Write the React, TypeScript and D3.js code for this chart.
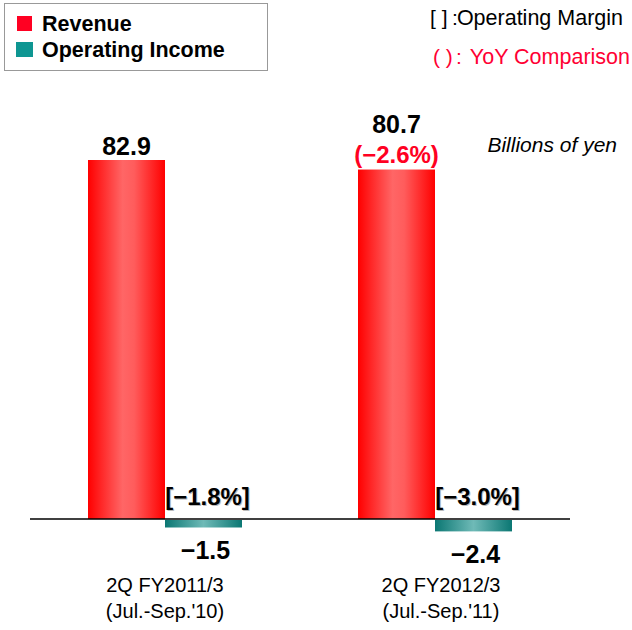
import React from "react";
import * as d3 from "d3";

const categories = ["2Q FY2011/3", "2Q FY2012/3"];
const periods = ["(Jul.-Sep.'10)", "(Jul.-Sep.'11)"];
const revenue = [82.9, 80.7];
const operatingIncome = [-1.5, -2.4];
const operatingMargin = ["[\u22121.8%]", "[\u22123.0%]"];
const yoy = ["", "(\u22122.6%)"];
const series = ["Revenue", "Operating Income"];

const W = 632;
const H = 630;

export default function App() {
  const x = d3.scalePoint<string>().domain(categories).range([30, 570]).padding(0.5);
  const inner = d3.scaleBand<string>().domain(series).range([-77, 77]).padding(0);
  const y = d3.scaleLinear().domain([0, 82.9]).range([519, 160]);
  const font = "'Liberation Sans', Arial, sans-serif";
  const bw = inner.bandwidth();

  return (
    <svg width={W} height={H} style={{ position: "absolute", left: 0, top: 0, display: "block" }} fontFamily={font}>
      <defs>
        <linearGradient id="gRed" x1="0" x2="1" y1="0" y2="0">
          <stop offset="0" stopColor="#FF0000" />
          <stop offset="0.45" stopColor="#FF6666" />
          <stop offset="0.6" stopColor="#FF5C5C" />
          <stop offset="1" stopColor="#FF0000" />
        </linearGradient>
        <linearGradient id="gTeal" x1="0" x2="1" y1="0" y2="0">
          <stop offset="0" stopColor="#0B7773" />
          <stop offset="0.5" stopColor="#6FBAB7" />
          <stop offset="1" stopColor="#0B7773" />
        </linearGradient>
      </defs>
      <rect width={W} height={H} fill="#fff" />

      {/* legend */}
      <rect x={4.5} y={3.5} width={263} height={67} fill="#fff" stroke="#999" strokeWidth={1} />
      <rect x={17} y={16} width={15} height={15} fill="#FF0022" />
      <rect x={16} y={42} width={17} height={15} fill="#0E9692" />
      <text x={42} y={31} fontSize={21.5} fontWeight="bold" fill="#000">Revenue</text>
      <text x={42} y={57} fontSize={21.5} fontWeight="bold" fill="#000">Operating Income</text>

      <text x={430} y={25} fontSize={21} fill="#000">[ ]</text>
      <text x={452} y={25} fontSize={21} fill="#000">:</text>
      <text x={623} y={25} fontSize={21.5} fill="#000" textAnchor="end">Operating Margin</text>
      <text x={433} y={64} fontSize={21} fill="#FF0033">( )</text>
      <text x={456} y={64} fontSize={21} fill="#FF0033">:</text>
      <text x={630} y={64} fontSize={21.5} fill="#FF0033" textAnchor="end">YoY Comparison</text>

      <text x={617} y={152} fontSize={21} fontStyle="italic" textAnchor="end" fill="#000">Billions of yen</text>

      {categories.map((c, i) => {
        const cx = x(c)!;
        const rx = cx + inner("Revenue")!;
        const ox = cx + inner("Operating Income")!;
        const rTop = y(revenue[i]);
        const oBot = y(operatingIncome[i]) + 2;
        return (
          <g key={c}>
            <rect x={rx} y={rTop} width={bw} height={y(0) - rTop} fill="url(#gRed)" />
            <rect x={ox} y={y(0) + 1} width={bw} height={oBot - y(0) - 1} fill="url(#gTeal)" />
            <text x={rx + bw / 2} y={yoy[i] ? rTop - 37 : rTop - 5} fontSize={25} fontWeight="bold" textAnchor="middle" fill="#000">
              {revenue[i].toFixed(1)}
            </text>
            {yoy[i] && (
              <text x={rx + bw / 2} y={rTop - 7} fontSize={24} fontWeight="bold" textAnchor="middle" fill="#FF0022">
                {yoy[i]}
              </text>
            )}
            <text x={ox + bw / 2 + 5} y={y(0) - 13} fontSize={24} fontWeight="bold" textAnchor="middle" fill="#bbb">
              {operatingMargin[i]}
            </text>
            <text x={ox + bw / 2 + 4} y={y(0) - 14} fontSize={24} fontWeight="bold" textAnchor="middle" fill="#000">
              {operatingMargin[i]}
            </text>
            <text x={ox + bw / 2 + 2} y={oBot + 32} fontSize={25} fontWeight="bold" textAnchor="middle" fill="#000">
              {"\u2212" + Math.abs(operatingIncome[i]).toFixed(1)}
            </text>
            <text x={cx + (i === 0 ? 0 : 6)} y={592} fontSize={20} textAnchor="middle" fill="#000">{c}</text>
            <text x={cx + (i === 0 ? 0 : 6)} y={618} fontSize={20} textAnchor="middle" fill="#000">{periods[i]}</text>
          </g>
        );
      })}

      <line x1={30} x2={570} y1={y(0)} y2={y(0)} stroke="#000" strokeWidth={1.5} />
    </svg>
  );
}
